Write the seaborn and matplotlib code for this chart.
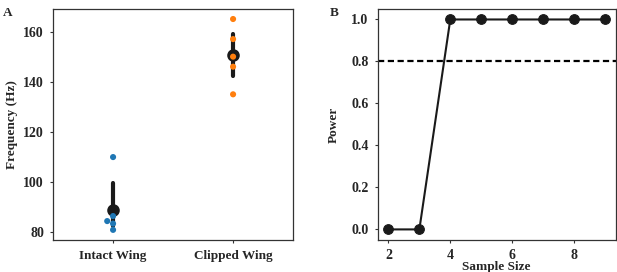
import numpy as np
import pandas as pd
import matplotlib
matplotlib.use("Agg")
import matplotlib.pyplot as plt
import seaborn as sns

# panel A: wing-beat frequency per animal
intact_hz = [110, 86.5, 84.5, 83.5, 81]
clipped_hz = [165, 157, 150, 146, 135]
groups = ["Intact Wing", "Clipped Wing"]

# panel B: power analysis
sample_size = [2, 3, 4, 5, 6, 7, 8, 9]
power = [0, 0, 1, 1, 1, 1, 1, 1]
power_threshold = 0.8

sns.set_style("white")
plt.rcParams["font.family"] = ["Liberation Serif", "DejaVu Serif"]
plt.rcParams["font.weight"] = "bold"
plt.rcParams["axes.labelweight"] = "bold"

df = pd.DataFrame({
    "group": [groups[0]] * len(intact_hz) + [groups[1]] * len(clipped_hz),
    "freq": intact_hz + clipped_hz,
})
df_pow = pd.DataFrame({"n": sample_size, "power": power})

fig = plt.figure(figsize=(6.17, 2.72), dpi=100)
axA = fig.add_axes([0.086, 0.118, 0.389, 0.849])
axB = fig.add_axes([0.612, 0.118, 0.386, 0.849])

# --- A ---
sns.pointplot(data=df, x="group", y="freq", order=groups, color="#1a1a1a",
              errorbar=("ci", 95), seed=3, linestyle="none", markersize=7,
              err_kws={"linewidth": 3}, ax=axA)
sns.swarmplot(data=df, x="group", y="freq", order=groups, hue="group",
              palette=["#1f77b4", "#ff7f0e"], size=4.4, legend=False,
              zorder=4, ax=axA)
axA.set_xlim(-0.5, 1.5)
axA.set_ylim(77, 169)
axA.set_yticks([80, 100, 120, 140, 160])
axA.set_xlabel("")
axA.set_ylabel("Frequency (Hz)", fontsize=9.5, labelpad=4)

# --- B ---
sns.lineplot(data=df_pow, x="n", y="power", marker="o", color="#1a1a1a",
             markersize=7, linewidth=1.5, markeredgecolor="#1a1a1a", ax=axB)
axB.axhline(power_threshold, color="black", linestyle="--", linewidth=1.6,
            dashes=(2.8, 1.6))
axB.set_xlim(1.65, 9.35)
axB.set_ylim(-0.05, 1.05)
axB.set_xticks([2, 4, 6, 8])
axB.set_yticks([0.0, 0.2, 0.4, 0.6, 0.8, 1.0])
axB.set_xlabel("Sample Size", fontsize=9.5, labelpad=-1)
axB.set_ylabel("Power", fontsize=9.5, labelpad=8)

for ax in (axA, axB):
    for s in ax.spines.values():
        s.set_color("#333333")
        s.set_linewidth(0.9)
    ax.tick_params(axis="both", which="major", length=2.5, width=0.8,
                   color="#333333", labelsize=10, pad=4, bottom=True, left=True)
    for lab in ax.get_xticklabels() + ax.get_yticklabels():
        lab.set_fontweight("bold")
axA.tick_params(axis="x", labelsize=9.5, pad=5)

fig.text(0.004, 0.975, "A", fontsize=9.5, fontweight="bold", va="top")
fig.text(0.535, 0.975, "B", fontsize=9.5, fontweight="bold", va="top")

fig.savefig("out.png", dpi=100)
